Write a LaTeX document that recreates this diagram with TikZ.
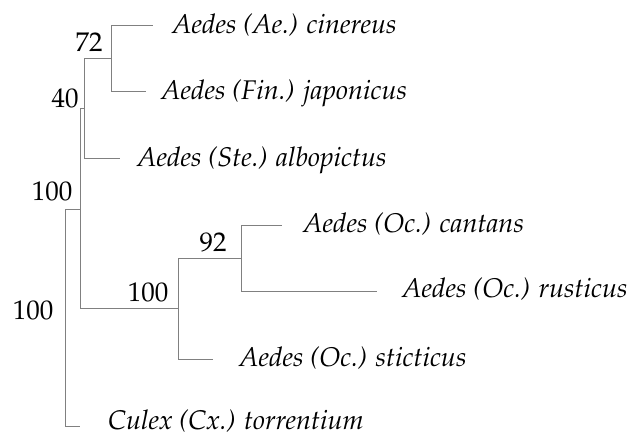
\documentclass[tikz,border=0pt]{standalone}
\usepackage[T1]{fontenc}
\usepackage{mathpazo}
\begin{document}
\begin{tikzpicture}[x=1pt, y=-1pt,
    branch/.style={draw=gray, line width=0.8pt},
    taxon/.style={anchor=base west, inner sep=0pt, font=\fontsize{27}{30}\selectfont\itshape},
    support/.style={inner sep=0pt, font=\fontsize{27}{30}\selectfont}]
  \useasboundingbox (0,0) rectangle (632,437);
  % inner nodes of the tree
  \coordinate (root) at (65,317);
  \coordinate (aedes) at (80,209);
  \coordinate (n40) at (84,108);
  \coordinate (n72) at (111,58);
  \coordinate (oc) at (178,308);
  \coordinate (n92) at (241,258);
  % branch tips
  \coordinate (tcin) at (153,25);
  \coordinate (tjap) at (146,91);
  \coordinate (talb) at (120,158);
  \coordinate (tcan) at (282,225);
  \coordinate (trus) at (377,291);
  \coordinate (tsti) at (213,359);
  \coordinate (tcul) at (80,426);
  % taxa
  \node[taxon] (cin) at (172,33) {Aedes (Ae.) cinereus};
  \node[taxon] (jap) at (161,99.5) {Aedes (Fin.) japonicus};
  \node[taxon] (alb) at (137,166) {Aedes (Ste.) albopictus};
  \node[taxon] (can) at (303,232.5) {Aedes (Oc.) cantans};
  \node[taxon] (rus) at (402,297.5) {Aedes (Oc.) rusticus};
  \node[taxon] (sti) at (239,366.5) {Aedes (Oc.) sticticus};
  \node[taxon] (cul) at (108,429) {Culex (Cx.) torrentium};
  % branches
  \draw[branch] (root) |- (aedes);
  \draw[branch] (root) |- (tcul);
  \draw[branch] (aedes) |- (n40);
  \draw[branch] (aedes) |- (oc);
  \draw[branch] (n40) |- (n72);
  \draw[branch] (n40) |- (talb);
  \draw[branch] (n72) |- (tcin);
  \draw[branch] (n72) |- (tjap);
  \draw[branch] (oc) |- (n92);
  \draw[branch] (oc) |- (tsti);
  \draw[branch] (n92) |- (tcan);
  \draw[branch] (n92) |- (trus);
  % bootstrap values
  \node[support] (b72) at (89,42) {72};
  \node[support] (b40) at (65,98) {40};
  \node[support] (baedes) at (52,191) {100};
  \node[support] (broot) at (33,310) {100};
  \node[support] (boc) at (148,292) {100};
  \node[support] (b92) at (213,242) {92};
\end{tikzpicture}
\end{document}
